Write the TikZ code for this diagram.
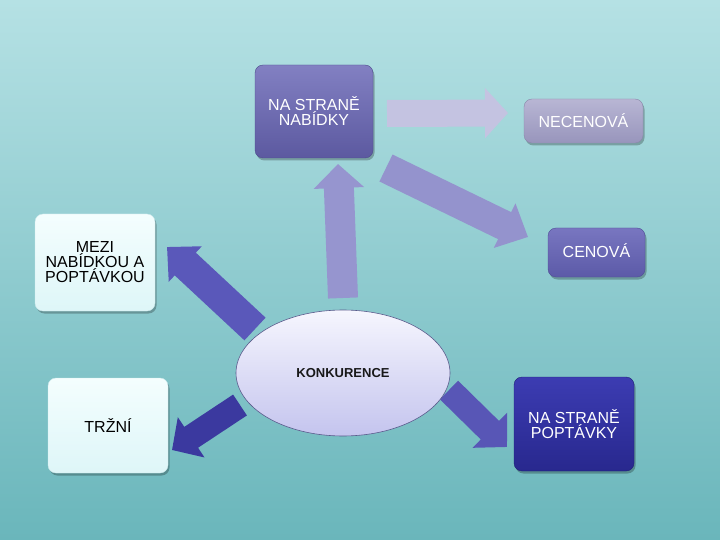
\documentclass[tikz,border=0pt]{standalone}
\usepackage{fontspec}
\setmainfont{Liberation Sans}
\usetikzlibrary{arrows.meta,shadows}
\definecolor{bgtop}{HTML}{B5E1E4}
\definecolor{bgbot}{HTML}{6AB6BB}
\definecolor{ar1}{RGB}{196,195,225}
\definecolor{ar2}{RGB}{148,147,205}
\definecolor{ar3}{RGB}{150,149,207}
\definecolor{ar4}{RGB}{90,88,186}
\definecolor{ar5}{RGB}{59,57,159}
\definecolor{ar6}{RGB}{88,86,182}
\definecolor{nabT}{RGB}{130,128,194}
\definecolor{nabB}{RGB}{92,89,160}
\definecolor{nabD}{RGB}{78,76,140}
\definecolor{necT}{RGB}{184,182,212}
\definecolor{necB}{RGB}{152,149,188}
\definecolor{necD}{RGB}{138,136,170}
\definecolor{cenT}{RGB}{120,118,192}
\definecolor{cenB}{RGB}{92,90,168}
\definecolor{cenD}{RGB}{80,78,150}
\definecolor{popT}{RGB}{60,60,178}
\definecolor{popB}{RGB}{40,40,142}
\definecolor{popD}{RGB}{32,32,120}
\definecolor{ltT}{RGB}{244,254,254}
\definecolor{ltB}{RGB}{222,246,248}
\definecolor{ltD}{RGB}{205,233,236}
\definecolor{elT}{RGB}{246,246,254}
\definecolor{elB}{RGB}{196,196,238}
\definecolor{elD}{RGB}{90,90,140}
\tikzset{
  box/.style={rounded corners=8pt, align=center, inner sep=0pt,
    font=\fontsize{16}{15}\selectfont,
    drop shadow={shadow xshift=1.5pt, shadow yshift=-2.5pt, opacity=0.25, fill=black}},
  darkbox/.style={box, text=white},
  lightbox/.style={box, text=black, top color=ltT, bottom color=ltB, draw=ltD},
  blk/.style={line cap=butt},
}
\begin{document}
\begin{tikzpicture}[x=1pt,y=-1pt]
\shade[top color=bgtop, bottom color=bgbot] (0,0) rectangle (720,540);
\useasboundingbox (0,0) rectangle (720,540);

% arrow end points
\coordinate (a1s) at (387,113.5); \coordinate (a1e) at (508,113);
\coordinate (a2s) at (386,168);   \coordinate (a2e) at (528,237);
\coordinate (a3s) at (343,298);   \coordinate (a3e) at (338,164);
\coordinate (a4s) at (255,329);   \coordinate (a4e) at (167,247);
\coordinate (a5s) at (240,405);   \coordinate (a5e) at (172,450);
\coordinate (a6s) at (449,390);   \coordinate (a6e) at (507,447);

% block arrows
\draw[blk, draw=ar1, line width=27pt, -{Triangle[length=23pt,width=49pt]}] (a1s) -- (a1e);
\draw[blk, draw=ar2, line width=30pt, -{Triangle[length=26pt,width=48pt]}] (a2s) -- (a2e);
\draw[blk, draw=ar3, line width=30pt, -{Triangle[length=24pt,width=49pt]}] (a3s) -- (a3e);
\draw[blk, draw=ar4, line width=31pt, -{Triangle[length=25pt,width=47pt]}] (a4s) -- (a4e);
\draw[blk, draw=ar5, line width=25pt, -{Triangle[length=23pt,width=47pt]}] (a5s) -- (a5e);
\draw[blk, draw=ar6, line width=26pt, -{Triangle[length=24pt,width=48pt]}] (a6s) -- (a6e);

% boxes
\node[darkbox, minimum width=118pt, minimum height=93pt,
  top color=nabT, bottom color=nabB, draw=nabD] (nab) at (314,111.5) {NA STRANĚ\\NABÍDKY};
\node[darkbox, minimum width=119pt, minimum height=44pt,
  top color=necT, bottom color=necB, draw=necD] (nec) at (583.5,121) {NECENOVÁ};
\node[darkbox, minimum width=97pt, minimum height=49pt,
  top color=cenT, bottom color=cenB, draw=cenD] (cen) at (596.5,252.5) {\raisebox{3pt}{CENOVÁ}};
\node[lightbox, minimum width=120pt, minimum height=97pt] (mez) at (95,262.5)
  {\fontsize{16}{16.5}\selectfont MEZI\\NABÍDKOU A\\POPTÁVKOU};
\node[lightbox, minimum width=120pt, minimum height=95pt] (trz) at (108,425.5) {TRŽNÍ};
\node[darkbox, minimum width=120pt, minimum height=94pt,
  top color=popT, bottom color=popB, draw=popD] (pop) at (574,424)
  {\raisebox{3pt}{\parbox{110pt}{\centering NA STRANĚ\\POPTÁVKY}}};

% ellipse
\shade[top color=elT, bottom color=elB] (343,373) ellipse [x radius=107pt, y radius=63pt];
\draw[draw=elD, line width=0.6pt] (343,373) ellipse [x radius=107pt, y radius=63pt];
\node[font=\fontsize{13}{15}\bfseries\selectfont, text=black!90] (kon) at (343,373) {KONKURENCE};
\end{tikzpicture}
\end{document}
